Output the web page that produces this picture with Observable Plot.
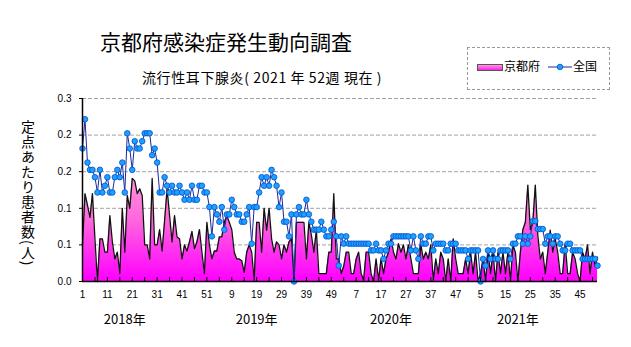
<!DOCTYPE html>
<html><head><meta charset="utf-8">
<script src="https://cdn.jsdelivr.net/npm/d3@7"></script>
<script src="https://cdn.jsdelivr.net/npm/@observablehq/plot@0.6"></script>
<style>
body{margin:0;background:#fff;}
#wrap{position:relative;width:631px;height:347px;overflow:hidden;background:#fff;font-family:"Noto Sans CJK JP",sans-serif;color:#000;}
#chart{position:absolute;left:0;top:0;}
#title{position:absolute;left:100px;top:28px;font-size:21px;line-height:26px;white-space:nowrap;}
#subtitle{position:absolute;left:142px;top:67px;font-size:14px;line-height:20px;white-space:nowrap;letter-spacing:0.6px;}
#legend{position:absolute;left:467px;top:47px;width:143px;height:43px;border:1px dashed #9a9a9a;box-sizing:border-box;font-size:12px;}
#legend .sw{position:absolute;left:9px;top:16px;width:24px;height:5px;border:1px solid #555;background:linear-gradient(#ff9ad6,#ff20f0);}
#legend .t1{position:absolute;left:36px;top:9px;line-height:18px;white-space:nowrap;}
#legend svg{position:absolute;left:80px;top:14px;}
#legend .t2{position:absolute;left:105px;top:9px;line-height:18px;white-space:nowrap;}
#ylabel{position:absolute;left:20px;top:120px;font-size:14px;line-height:16px;writing-mode:vertical-rl;white-space:nowrap;letter-spacing:1px;}
</style></head><body>
<div id="wrap">
  <div id="chart"></div>
  <div id="title">京都府感染症発生動向調査</div>
  <div id="subtitle">流行性耳下腺炎( 2021 年 52週 現在 )</div>
  <div id="legend"><div class="sw"></div><div class="t1">京都府</div>
    <svg width="24" height="10"><line x1="0" y1="5" x2="24" y2="5" stroke="#1a2a99" stroke-width="1"/><circle cx="12" cy="5" r="2.8" fill="#1ea0ff" stroke="#0050d0" stroke-width="0.8"/></svg>
    <div class="t2">全国</div></div>
  <div id="ylabel">定点あたり患者数(人)</div>
</div>
<script>
const years = [2018, 2019, 2020, 2021];
const weeksPerYear = 52;
const yearLabels = ["2018年", "2019年", "2020年", "2021年"];
const yearLabelPos = [17, 70, 124, 175];
const yTicks = [0, 0.06, 0.12, 0.18, 0.24, 0.30];

const kyoto = [
  0.06,0.144,0.125,0.105,0.144,0.07,0.0,0.07,0.07,0.048,0.048,0.108,0.065,0.037,0.048,0.013,0.12,0.048,0.141,0.12,
  0.169,0.165,0.144,0.152,0.141,0.06,0.06,0.037,0.169,0.06,0.06,0.085,0.05,0.1,0.152,0.108,0.065,0.108,0.073,0.07,
  0.037,0.06,0.05,0.065,0.082,0.054,0.065,0.085,0.048,0.013,0.097,0.06,
  0.037,0.05,0.05,0.073,0.073,0.097,0.108,0.097,0.085,0.048,0.037,0.037,0.034,0.015,0.048,0.06,0.048,0.002,0.097,0.097,
  0.048,0.12,0.084,0.12,0.07,0.048,0.065,0.06,0.037,0.06,0.048,0.065,0.07,0.0,0.097,0.097,0.097,0.097,0.037,0.097,
  0.076,0.048,0.084,0.013,0.013,0.013,0.013,0.048,0.048,0.144,0.037,0.037,
  0.013,0.025,0.048,0.048,0.013,0.013,0.037,0.048,0.013,0.002,0.048,0.048,0.013,0.0,0.037,0.002,0.037,0.013,0.037,0.048,
  0.07,0.048,0.037,0.062,0.048,0.06,0.037,0.06,0.037,0.013,0.013,0.013,0.06,0.037,0.048,0.037,0.06,0.002,0.037,0.013,
  0.048,0.037,0.0,0.037,0.0,0.07,0.037,0.013,0.013,0.013,0.037,0.013,
  0.048,0.013,0.048,0.0,0.013,0.037,0.0,0.048,0.013,0.048,0.0,0.048,0.013,0.048,0.013,0.048,0.0,0.06,0.048,0.0,
  0.048,0.085,0.097,0.158,0.085,0.097,0.158,0.076,0.037,0.048,0.013,0.048,0.084,0.048,0.07,0.048,0.013,0.013,0.062,0.013,
  0.013,0.048,0.037,0.013,0.0,0.048,0.037,0.06,0.013,0.048,0.025,0.04
];

const national = [
  0.218,0.266,0.195,0.183,0.183,0.171,0.146,0.183,0.146,0.157,0.171,0.146,0.146,0.171,0.183,0.171,0.195,0.146,0.243,0.218,
  0.183,0.230,0.218,0.218,0.230,0.243,0.243,0.243,0.207,0.218,0.195,0.146,0.146,0.171,0.157,0.146,0.157,0.146,0.146,0.157,
  0.146,0.134,0.146,0.134,0.157,0.134,0.134,0.157,0.157,0.146,0.146,0.122,
  0.074,0.122,0.110,0.098,0.122,0.085,0.110,0.110,0.134,0.122,0.110,0.110,0.098,0.098,0.110,0.122,0.062,0.122,0.122,0.146,
  0.171,0.157,0.171,0.157,0.183,0.171,0.157,0.122,0.146,0.098,0.098,0.074,0.110,0.0,0.110,0.122,0.110,0.110,0.134,0.110,
  0.098,0.085,0.085,0.085,0.098,0.085,0.074,0.074,0.085,0.098,0.074,0.026,
  0.074,0.062,0.074,0.062,0.062,0.062,0.062,0.062,0.062,0.062,0.062,0.062,0.051,0.051,0.062,0.051,0.051,0.037,0.051,0.062,
  0.062,0.074,0.074,0.074,0.074,0.074,0.074,0.074,0.051,0.074,0.051,0.037,0.074,0.062,0.062,0.074,0.074,0.051,0.062,0.062,
  0.062,0.062,0.051,0.051,0.062,0.062,0.062,0.051,0.051,0.051,0.051,0.037,
  0.051,0.051,0.051,0.051,0.0,0.037,0.026,0.051,0.037,0.051,0.037,0.037,0.051,0.051,0.051,0.051,0.037,0.062,0.062,0.074,
  0.074,0.062,0.074,0.062,0.074,0.099,0.099,0.086,0.086,0.086,0.062,0.074,0.074,0.062,0.074,0.074,0.062,0.051,0.051,0.062,
  0.062,0.051,0.051,0.051,0.051,0.037,0.037,0.037,0.037,0.037,0.037,0.026
];

const data = kyoto.map((v, i) => ({
  i, year: years[Math.floor(i / weeksPerYear)], week: (i % weeksPerYear) + 1, kyoto: v, national: national[i]
}));
const xTicks = d3.range(0, data.length, 10);
const xMinor = d3.range(0, data.length, 5);

const plot = Plot.plot({
  width: 631, height: 347,
  marginTop: 98, marginRight: 34, marginBottom: 66, marginLeft: 82,
  style: {fontFamily: "'Liberation Sans', Arial, sans-serif", fontSize: "10px", background: "transparent", color: "#000"},
  x: {domain: [0, data.length - 1]},
  y: {domain: [0, 0.3]},
  marks: [
    Plot.gridY(yTicks.slice(1), {stroke: "#a8a0a8", strokeOpacity: 1, strokeDasharray: "4,2"}),
    Plot.areaY(data, {x: "i", y: "kyoto", fill: "url(#pinkGrad)"}),
    Plot.lineY(data, {x: "i", y: "kyoto", stroke: "#111", strokeWidth: 1.3}),
    Plot.lineY(data, {x: "i", y: "national", stroke: "#1a2a99", strokeWidth: 1}),
    Plot.dot(data, {x: "i", y: "national", r: 2.8, fill: "#1ea0ff", stroke: "#0050d0", strokeWidth: 0.8}),
    Plot.axisY({ticks: yTicks, tickFormat: d3.format(".1f"), tickSize: 3, tickPadding: 8, label: null}),
    Plot.axisX({ticks: xTicks, tickFormat: i => data[i].week, tickSize: 0, tickPadding: 9, label: null}),
    Plot.tickX(xMinor, {x: d => d, frameAnchor: "bottom", insetTop: 179, stroke: "#000"}),
    Plot.ruleX([0], {stroke: "#000", strokeWidth: 1.5}),
    Plot.ruleY([0], {stroke: "#000", strokeWidth: 1.5}),
    Plot.text(yearLabels, {x: (d, k) => yearLabelPos[k], text: d => d, frameAnchor: "bottom", dy: 42, fontSize: 13, fontFamily: "'Noto Sans CJK JP', sans-serif"})
  ]
});

const yS = plot.scale("y");
const svg = d3.select(plot);
svg.insert("defs", ":first-child").html(
  `<linearGradient id="pinkGrad" gradientUnits="userSpaceOnUse" x1="0" x2="0" y1="${yS.apply(0.2)}" y2="${yS.apply(0)}">
     <stop offset="0" stop-color="#ffa8d8"/><stop offset="0.5" stop-color="#ff66dd"/><stop offset="1" stop-color="#ff00ff"/>
   </linearGradient>`);
document.getElementById("chart").appendChild(plot);
</script>
</body></html>
